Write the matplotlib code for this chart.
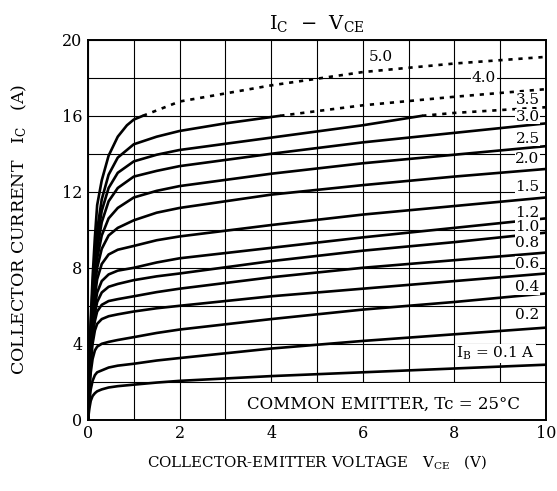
import matplotlib
matplotlib.use("Agg")
import matplotlib.pyplot as plt
from matplotlib.patches import Rectangle

plt.rcParams['font.family'] = 'DejaVu Serif'
plt.rcParams['mathtext.fontset'] = 'dejavuserif'

# base current of each curve (A)
ib_values = [0.1, 0.2, 0.4, 0.6, 0.8, 1.0, 1.2, 1.5, 2.0, 2.5, 3.0, 3.5, 4.0, 5.0]
ib_labels = ['I$_\\mathrm{B}$ = 0.1 A', '0.2', '0.4', '0.6', '0.8', '1.0', '1.2',
             '1.5', '2.0', '2.5', '3.0', '3.5', '4.0', '5.0']

# solid part of each curve
v_solid = [
    [0, 0.03, 0.06, 0.1, 0.15, 0.2, 0.3, 0.45, 0.65, 1.0, 1.5, 2, 4, 6, 8, 10],
] * 11 + [
    [0, 0.03, 0.06, 0.1, 0.15, 0.2, 0.3, 0.45, 0.65, 1.0, 1.5, 2, 4, 6, 7.3],
    [0, 0.03, 0.06, 0.1, 0.15, 0.2, 0.3, 0.45, 0.65, 1.0, 1.5, 2, 3, 4.2],
    [0, 0.03, 0.06, 0.1, 0.15, 0.2, 0.3, 0.45, 0.65, 0.85, 1.0, 1.2],
]
ic_solid = [
    [0, 0.6, 1.0, 1.25, 1.4, 1.5, 1.6, 1.7, 1.77, 1.85, 1.96, 2.05, 2.3, 2.5, 2.7, 2.9],
    [0, 1.0, 1.6, 2.05, 2.35, 2.5, 2.6, 2.75, 2.85, 2.95, 3.12, 3.25, 3.75, 4.15, 4.5, 4.85],
    [0, 1.5, 2.5, 3.2, 3.65, 3.85, 4.0, 4.1, 4.2, 4.35, 4.57, 4.75, 5.3, 5.8, 6.2, 6.65],
    [0, 1.8, 3.0, 4.0, 4.7, 5.05, 5.3, 5.45, 5.55, 5.7, 5.87, 6.0, 6.5, 6.9, 7.3, 7.7],
    [0, 2.0, 3.3, 4.4, 5.2, 5.7, 6.05, 6.25, 6.35, 6.5, 6.72, 6.9, 7.5, 8.0, 8.4, 8.8],
    [0, 2.1, 3.5, 4.7, 5.6, 6.2, 6.7, 7.0, 7.15, 7.35, 7.55, 7.7, 8.35, 8.9, 9.35, 9.85],
    [0, 2.2, 3.7, 5.0, 6.0, 6.7, 7.3, 7.65, 7.85, 8.0, 8.28, 8.5, 9.05, 9.6, 10.1, 10.6],
    [0, 2.3, 3.9, 5.3, 6.5, 7.4, 8.2, 8.7, 8.95, 9.15, 9.45, 9.65, 10.25, 10.8, 11.25, 11.7],
    [0, 2.4, 4.1, 5.7, 7.0, 8.0, 9.0, 9.7, 10.1, 10.5, 10.9, 11.15, 11.85, 12.35, 12.8, 13.2],
    [0, 2.5, 4.3, 6.0, 7.4, 8.5, 9.7, 10.6, 11.15, 11.7, 12.05, 12.3, 12.95, 13.5, 13.95, 14.4],
    [0, 2.6, 4.5, 6.3, 7.8, 9.0, 10.4, 11.5, 12.2, 12.8, 13.1, 13.35, 14.0, 14.6, 15.1, 15.6],
    [0, 2.7, 4.7, 6.6, 8.2, 9.5, 11.0, 12.2, 13.0, 13.6, 13.95, 14.2, 14.85, 15.5, 16.0],
    [0, 2.8, 4.9, 6.9, 8.6, 10.0, 11.6, 12.9, 13.8, 14.5, 14.9, 15.2, 15.6, 16.0],
    [0, 3.0, 5.3, 7.5, 9.6, 11.3, 12.6, 13.9, 14.9, 15.5, 15.8, 16.0],
]

# dotted continuation above 16 A (3.5, 4.0, 5.0)
v_dotted = [[7.3, 8, 9, 10], [4.2, 6, 8, 10], [1.2, 2, 4, 6, 8, 10]]
ic_dotted = [[16.0, 16.15, 16.3, 16.45], [16.0, 16.55, 17.0, 17.4],
             [16.0, 16.75, 17.6, 18.3, 18.75, 19.1]]

label_x = [8.9, 9.6, 9.6, 9.6, 9.6, 9.6, 9.6, 9.6, 9.6, 9.6, 9.6, 9.6, 8.65, 6.4]
label_y = [3.5, 5.5, 7.0, 8.2, 9.3, 10.15, 10.9, 12.25, 13.7, 14.8, 15.95, 16.85, 18.0, 19.1]

fig = plt.figure(figsize=(5.57, 4.91), dpi=100)
ax = fig.add_axes([0.158, 0.145, 0.822, 0.774])

for vs, cs in zip(v_solid, ic_solid):
    ax.plot(vs, cs, color='black', lw=1.9, zorder=2,
            solid_capstyle='round', solid_joinstyle='round')
for vs, cs in zip(v_dotted, ic_dotted):
    ax.plot(vs, cs, color='black', lw=1.9, ls=(0, (1.6, 2.2)), zorder=2)

for lab, x, y in zip(ib_labels, label_x, label_y):
    ax.text(x, y, lab, ha='center', va='center', fontsize=11, zorder=3,
            bbox=dict(facecolor='white', edgecolor='none', pad=0.5))

ax.add_patch(Rectangle((3.03, 0.05), 6.9, 1.88, facecolor='white',
                       edgecolor='none', zorder=1.5))
ax.text(6.45, 0.8, 'COMMON EMITTER, Tc = 25°C', ha='center', va='center',
        fontsize=12, zorder=3)

ax.set_xlim(0, 10)
ax.set_ylim(0, 20)
ax.set_xticks(range(0, 11, 2))
ax.set_xticks(range(0, 11, 1), minor=True)
ax.set_yticks(range(0, 21, 4))
ax.set_yticks(range(0, 21, 2), minor=True)
ax.grid(True, which='both', color='black', lw=0.8)
ax.set_axisbelow(True)
ax.tick_params(which='both', length=0, labelsize=11.5, pad=4)
for s in ax.spines.values():
    s.set_linewidth(1.4)

ax.set_title('I$_\\mathrm{C}$  $-$  V$_\\mathrm{CE}$', fontsize=14, pad=8)
ax.set_xlabel('COLLECTOR-EMITTER VOLTAGE   V$_\\mathrm{CE}$   (V)', fontsize=10.8, labelpad=8)
ax.set_ylabel('COLLECTOR CURRENT   I$_\\mathrm{C}$   (A)', fontsize=12.5, labelpad=24)

fig.savefig('out.png', dpi=100)
